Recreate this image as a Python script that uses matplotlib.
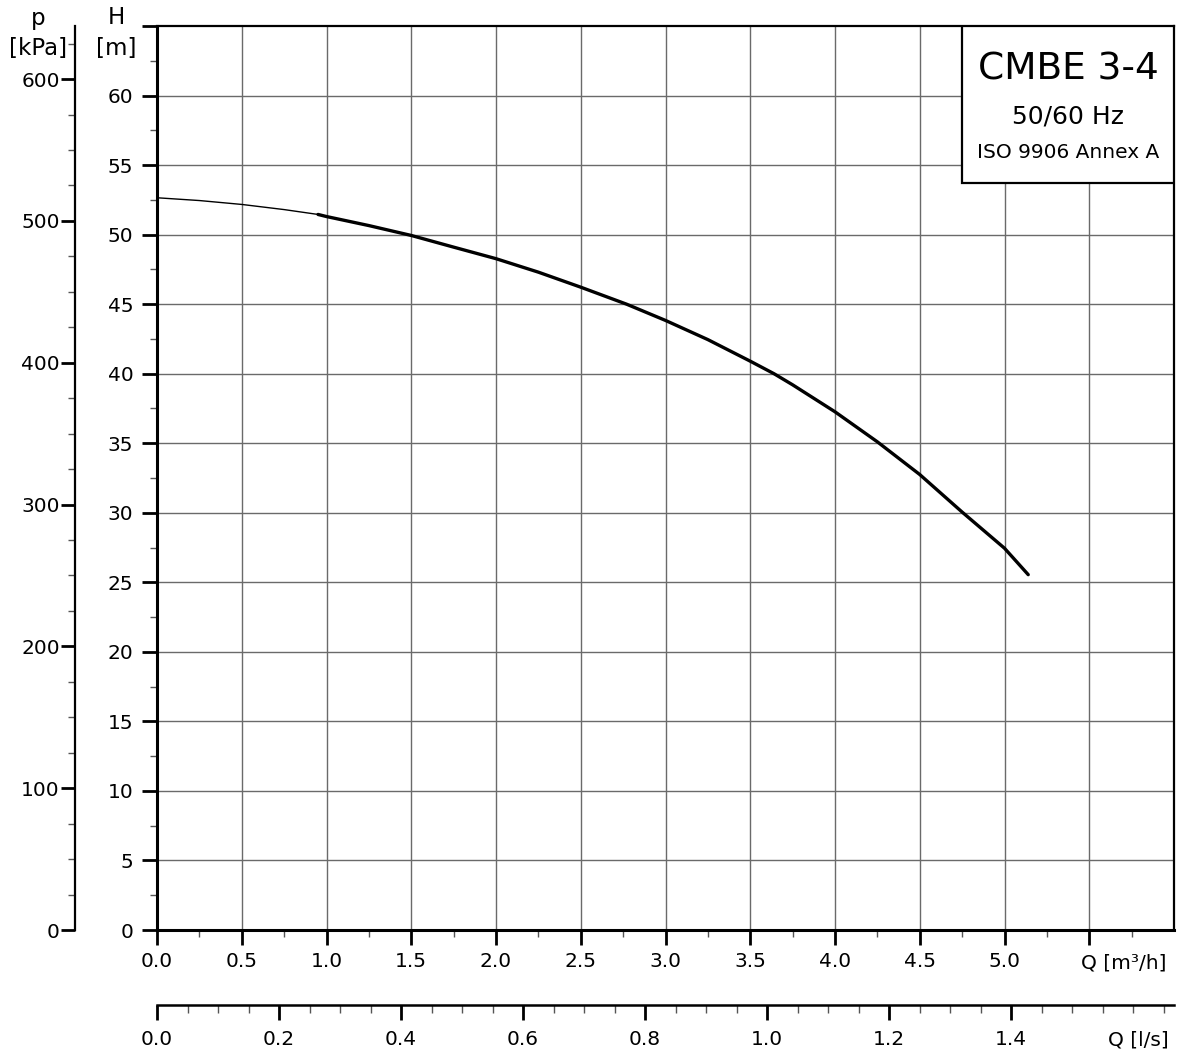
import matplotlib
matplotlib.use('Agg')
import matplotlib.pyplot as plt
import numpy as np
from matplotlib.patches import Rectangle

plt.rcParams['font.family'] = ['DejaVu Sans']

# pump curve (Q in m3/h, H in m)
q_thin = [0.0, 0.25, 0.5, 0.75, 0.95]
h_thin = [52.65, 52.45, 52.17, 51.8, 51.45]
q_curve = [0.95, 1.0, 1.25, 1.5, 1.75, 2.0, 2.25, 2.5, 2.77, 3.0, 3.25, 3.5, 3.64,
           3.75, 4.0, 4.25, 4.5, 4.75, 5.0, 5.14]
h_curve = [51.45, 51.3, 50.65, 49.94, 49.1, 48.27, 47.3, 46.22, 45.0, 43.83, 42.45,
           40.9, 40.0, 39.2, 37.26, 35.1, 32.75, 30.05, 27.45, 25.55]

q_ticks = [0.0, 0.5, 1.0, 1.5, 2.0, 2.5, 3.0, 3.5, 4.0, 4.5, 5.0, 5.5]
q_labels = ['0.0', '0.5', '1.0', '1.5', '2.0', '2.5', '3.0', '3.5', '4.0', '4.5', '5.0', '']
h_ticks = [0, 5, 10, 15, 20, 25, 30, 35, 40, 45, 50, 55, 60, 65]
h_labels = ['0', '5', '10', '15', '20', '25', '30', '35', '40', '45', '50', '55', '60', '']
p_ticks = [0, 100, 200, 300, 400, 500, 600]
ls_ticks = [0.0, 0.2, 0.4, 0.6, 0.8, 1.0, 1.2, 1.4]

title = 'CMBE 3-4'
subtitle1 = '50/60 Hz'
subtitle2 = 'ISO 9906 Annex A'

W, H = 1179, 1058
fig = plt.figure(figsize=(W / 100, H / 100), dpi=100)

def fx(px):
    return px / W

def fy(py):
    return 1 - py / H

# main axes
ax = fig.add_axes([fx(157), fy(930), fx(1174) - fx(157), fy(26) - fy(930)])
ax.set_xlim(0, 6)
ax.set_ylim(0, 65)

for xv in q_ticks[1:]:
    ax.axvline(xv, color='#6a6a6a', lw=1.0, zorder=1)
for yv in h_ticks[1:-1]:
    ax.axhline(yv, color='#6a6a6a', lw=1.0, zorder=1)

ax.plot(q_thin, h_thin, color='black', lw=1.0, zorder=3)
ax.plot(q_curve, h_curve, color='black', lw=2.4, zorder=3, solid_capstyle='round',
        solid_joinstyle='round')

ax.set_xticks(q_ticks)
ax.set_xticklabels(q_labels)
ax.set_xticks(np.arange(0.25, 6.0, 0.5), minor=True)
ax.set_yticks(h_ticks)
ax.set_yticklabels(h_labels)
ax.set_yticks(np.arange(2.5, 65, 5), minor=True)
ax.tick_params(which='major', direction='out', length=11, width=2, labelsize=14.5, pad=5)
ax.tick_params(which='minor', direction='out', length=5, width=1, color='#555555')
ax.tick_params(axis='y', which='major', pad=6)
for s in ['left', 'bottom']:
    ax.spines[s].set_linewidth(2.2)
for s in ['top', 'right']:
    ax.spines[s].set_linewidth(1.6)

ax.text(5.45, -0.0365, 'Q [m³/h]', transform=ax.get_xaxis_transform(),
        ha='left', va='center', fontsize=14.5)

# title box
bx0 = (962 - 157) / 1017
by0 = (930 - 183) / 904
ax.add_patch(Rectangle((bx0, by0), 1 - bx0, 1 - by0, transform=ax.transAxes,
                       facecolor='white', edgecolor='black', lw=1.6, zorder=5))
cx = (bx0 + 1) / 2
ax.text(cx, (930 - 70) / 904, title, transform=ax.transAxes, ha='center', va='center',
        fontsize=27, zorder=6)
ax.text(cx, (930 - 116) / 904, subtitle1, transform=ax.transAxes, ha='center', va='center',
        fontsize=18, zorder=6)
ax.text(cx, (930 - 152) / 904, subtitle2, transform=ax.transAxes, ha='center', va='center',
        fontsize=14.5, zorder=6)

# pressure axis
axp = fig.add_axes([fx(75), fy(930), 0.0005, fy(26) - fy(930)])
axp.set_ylim(0, 65 * 9.80665)
axp.set_xticks([])
for s in ['top', 'right', 'bottom']:
    axp.spines[s].set_visible(False)
axp.spines['left'].set_linewidth(1.6)
axp.set_yticks(p_ticks)
axp.set_yticks(np.arange(25, 640, 25), minor=True)
axp.tick_params(which='major', direction='out', length=10, width=2, labelsize=14.5, pad=1)
axp.tick_params(which='minor', direction='out', length=5, width=1, color='#555555')
axp.patch.set_visible(False)

# l/s axis
axq = fig.add_axes([fx(157), fy(1005), fx(1174) - fx(157), 0.0005])
axq.set_xlim(0, 6 / 3.6)
axq.set_yticks([])
for s in ['top', 'right', 'left']:
    axq.spines[s].set_visible(False)
axq.spines['bottom'].set_linewidth(1.8)
axq.set_xticks(ls_ticks)
axq.set_xticklabels(['%.1f' % v for v in ls_ticks])
axq.set_xticks(np.arange(0.05, 1.67, 0.05), minor=True)
axq.tick_params(which='major', direction='out', length=11, width=2, labelsize=14.5, pad=7)
axq.tick_params(which='minor', direction='out', length=6, width=1, color='#555555')
axq.patch.set_visible(False)
axq.text(1169 / W, fy(1040), 'Q [l/s]', transform=fig.transFigure, ha='right', va='center',
         fontsize=14.5)

# axis titles
fig.text(fx(38), fy(18), 'p', ha='center', va='center', fontsize=16.5)
fig.text(fx(38), fy(48), '[kPa]', ha='center', va='center', fontsize=16.5)
fig.text(fx(116), fy(18), 'H', ha='center', va='center', fontsize=16.5)
fig.text(fx(116), fy(48), '[m]', ha='center', va='center', fontsize=16.5)

fig.savefig('out.png', dpi=100, facecolor='white')
